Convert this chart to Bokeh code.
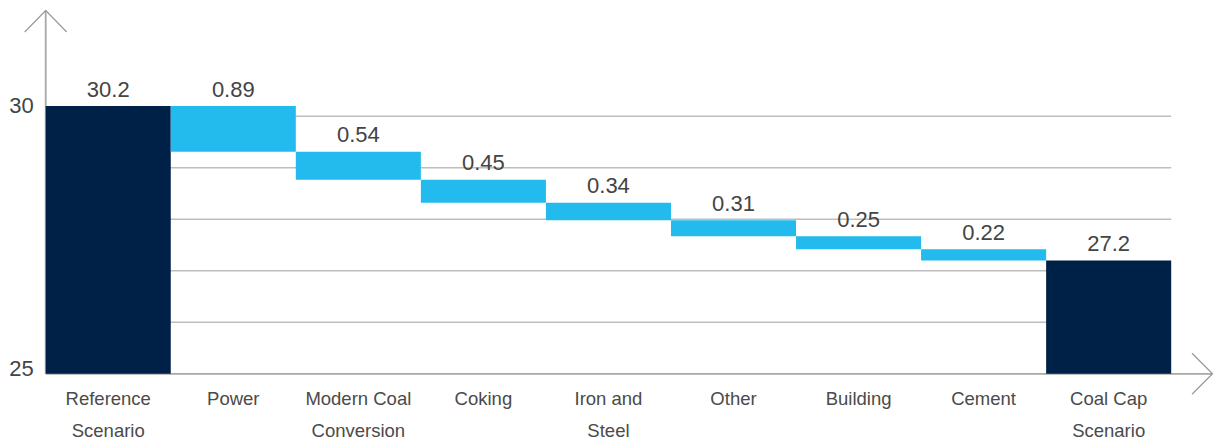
from bokeh.plotting import figure
from bokeh.models import Range1d, ColumnDataSource
from bokeh.core.properties import value
from bokeh.embed import file_html
from bokeh.resources import INLINE

# ---------------- data ----------------
categories = ["Reference\nScenario", "Power", "Modern Coal\nConversion", "Coking",
              "Iron and\nSteel", "Other", "Building", "Cement", "Coal Cap\nScenario"]
start_total = 30.2
reductions = [0.89, 0.54, 0.45, 0.34, 0.31, 0.25, 0.22]
end_total = 27.2
value_labels = ["30.2", "0.89", "0.54", "0.45", "0.34", "0.31", "0.25", "0.22", "27.2"]
y_base = 25
y_ticks = [25, 30]
y_tick_labels = ["25", "30"]
grid_values = [26, 27, 28, 29, 30]

NAVY = "#002147"
CYAN = "#23BBEE"
TEXT = "#444444"
FONT = "Liberation Sans"

# ---------------- waterfall geometry from data ----------------
n = len(categories)
bottoms, tops, colors = [], [], []
bottoms.append(y_base); tops.append(start_total); colors.append(NAVY)
run = start_total
for r in reductions:
    tops.append(run)
    bottoms.append(run - r)
    colors.append(CYAN)
    run -= r
bottoms.append(y_base); tops.append(end_total); colors.append(NAVY)
lefts = list(range(n))
rights = [i + 1 for i in range(n)]
centers = [i + 0.5 for i in range(n)]

W, H = 1216, 441
xr = Range1d(-0.3615, n + 0.3623)
yr = Range1d(23.685, 32.249)
px_x = W / (xr.end - xr.start)
px_y = H / (yr.end - yr.start)

p = figure(width=W, height=H, x_range=xr, y_range=yr, output_backend="svg",
           toolbar_location=None, x_axis_type=None, y_axis_type=None,
           min_border=0, min_border_left=0, min_border_right=0,
           min_border_top=0, min_border_bottom=0)
p.grid.visible = False
p.outline_line_color = None
p.background_fill_color = "white"
p.border_fill_color = "white"

# grid lines
p.segment(x0=[0] * len(grid_values), x1=[n] * len(grid_values), y0=grid_values, y1=grid_values,
          line_color="#bdbdbd", line_width=1.5)

# axis lines with open arrowheads
y_apex = yr.end - 10 / px_y
x_apex = xr.end - 4 / px_x
p.segment(x0=[0, 0], y0=[y_base, y_base], x1=[0, x_apex], y1=[y_apex, y_base],
          line_color="#a8a8a8", line_width=1.8)
hw_x, hl_y = 21 / px_x, 21.5 / px_y
hl_x, hw_y = 20.5 / px_x, 20.5 / px_y
p.multi_line(xs=[[-hw_x, 0, hw_x], [x_apex - hl_x, x_apex, x_apex - hl_x]],
             ys=[[y_apex - hl_y, y_apex, y_apex - hl_y], [y_base + hw_y, y_base, y_base - hw_y]],
             line_color="#9a9a9a", line_width=1.2)

# bars
src = ColumnDataSource(dict(left=lefts, right=rights, bottom=bottoms, top=tops, color=colors,
                            cx=centers, lab=value_labels))
p.quad(left="left", right="right", bottom="bottom", top="top", fill_color="color",
       line_color=None, source=src)

# value labels
p.text(x="cx", y="top", text="lab", source=src, text_align="center",
       text_baseline="middle", y_offset=-17, text_color=TEXT,
       text_font=value(FONT), text_font_size="22px")

# category labels (two lines)
line1 = [c.split("\n")[0] for c in categories]
line2 = [c.split("\n")[1] if "\n" in c else "" for c in categories]
csrc = ColumnDataSource(dict(x=centers, y=[y_base] * n, l1=line1, l2=line2))
p.text(x="x", y="y", text="l1", source=csrc, text_align="center", text_baseline="middle",
       y_offset=24.5, text_color="#4a4a4a", text_font=value(FONT), text_font_size="18.5px")
p.text(x="x", y="y", text="l2", source=csrc, text_align="center", text_baseline="middle",
       y_offset=57, text_color="#4a4a4a", text_font=value(FONT), text_font_size="18.5px")

# y tick labels
p.text(x=[0] * len(y_ticks), y=y_ticks, text=y_tick_labels, text_align="right",
       text_baseline="middle", x_offset=-12, y_offset=[-5, -11], text_color=TEXT,
       text_font=value(FONT), text_font_size="22px")

open("out.html", "w").write(file_html(p, INLINE))
